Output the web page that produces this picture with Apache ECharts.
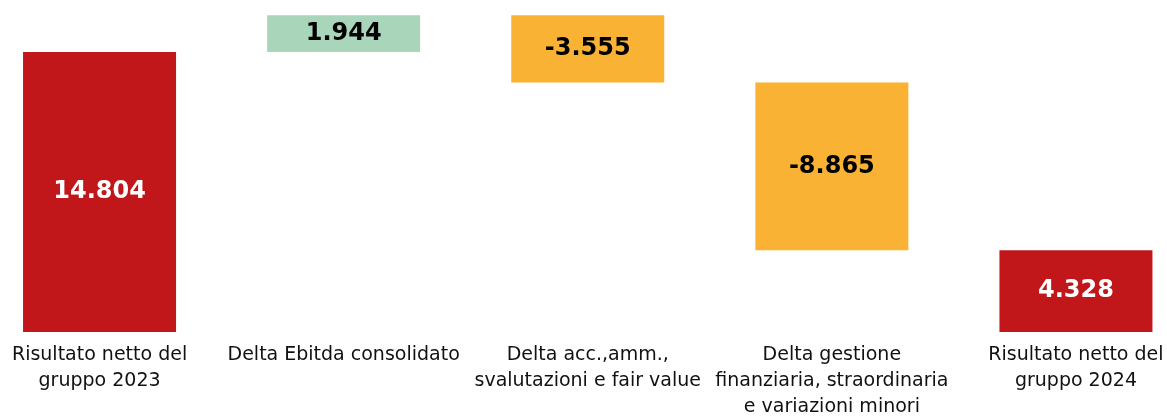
<!DOCTYPE html>
<html>
<head>
<meta charset="utf-8">
<script src="https://cdn.jsdelivr.net/npm/echarts@6/dist/echarts.min.js"></script>
<style>
  html, body { margin: 0; padding: 0; background: #fff; }
  #chart { width: 1167px; height: 416px; }
</style>
</head>
<body>
<div id="chart"></div>
<script>
// categorie e variazioni (migliaia)
var categories = [
  'Risultato netto del\ngruppo 2023',
  'Delta Ebitda consolidato',
  'Delta acc.,amm.,\nsvalutazioni e fair value',
  'Delta gestione\nfinanziaria, straordinaria\ne variazioni minori',
  'Risultato netto del\ngruppo 2024'
];
var deltas = [14.804, 1.944, -3.555, -8.865, 4.328];
var isTotal = [true, false, false, false, true];
var barColors = ['#C1171A', '#A9D5BA', '#F9B233', '#F9B233', '#C1171A'];

// base invisibile + barra visibile
var baseData = [];
var showData = [];
var running = 0;
for (var i = 0; i < deltas.length; i++) {
  if (isTotal[i]) {
    baseData.push(0);
    showData.push(deltas[i]);
    running = deltas[i];
  } else {
    var next = running + deltas[i];
    baseData.push(Math.min(running, next));
    showData.push(Math.abs(deltas[i]));
    running = next;
  }
}

function fmt(v) {
  return v.toFixed(3);
}

var chart = echarts.init(document.getElementById('chart'));

var option = {
  animation: false,
  grid: {
    left: -22.5,
    right: -31,
    top: 0,
    bottom: 84,
    containLabel: false,
    outerBoundsMode: 'none'
  },
  xAxis: {
    type: 'category',
    data: categories,
    axisLine: { show: false },
    axisTick: { show: false },
    axisLabel: {
      interval: 0,
      margin: 10,
      color: '#111',
      fontFamily: 'DejaVu Sans',
      fontSize: 19,
      lineHeight: 26
    }
  },
  yAxis: {
    type: 'value',
    min: 0,
    max: 17.56,
    show: false,
    splitLine: { show: false }
  },
  series: [{
    name: 'base',
    type: 'bar',
    stack: 'wf',
    barWidth: 153,
    itemStyle: { color: 'transparent' },
    silent: true,
    data: baseData
  }, {
    name: 'valore',
    type: 'bar',
    stack: 'wf',
    barWidth: 153,
    data: showData.map(function (v, i) {
      return {
        value: v,
        itemStyle: { color: barColors[i] },
        label: {
          color: isTotal[i] ? '#fff' : '#000'
        }
      };
    }),
    label: {
      show: true,
      position: 'inside',
      fontFamily: 'DejaVu Sans',
      fontWeight: 'bold',
      fontSize: 24,
      formatter: function (p) {
        return fmt(deltas[p.dataIndex]);
      }
    }
  }]
};

chart.setOption(option);
</script>
</body>
</html>
